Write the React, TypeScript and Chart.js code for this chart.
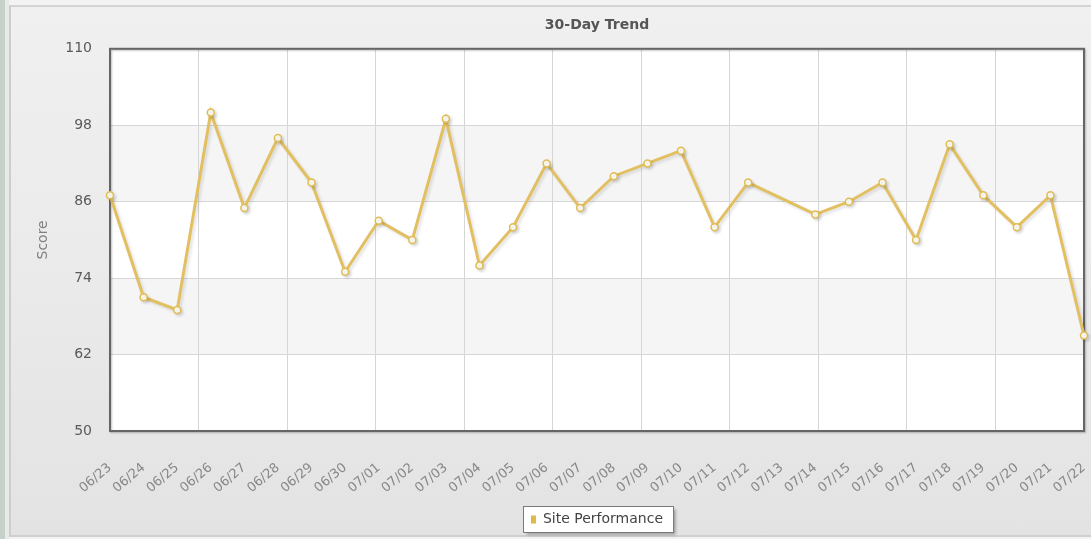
import React, { useEffect, useRef } from 'react';
import { Chart, registerables } from 'chart.js';

Chart.register(...registerables);

const dateLabels = [
  '06/23', '06/24', '06/25', '06/26', '06/27', '06/28', '06/29', '06/30',
  '07/01', '07/02', '07/03', '07/04', '07/05', '07/06', '07/07', '07/08',
  '07/09', '07/10', '07/11', '07/12', '07/13', '07/14', '07/15', '07/16',
  '07/17', '07/18', '07/19', '07/20', '07/21', '07/22',
];

const siteScores: (number | null)[] = [
  87, 71, 69, 100, 85, 96, 89, 75, 83, 80, 99, 76, 82, 92, 85, 90,
  92, 94, 82, 89, null, 84, 86, 89, 80, 95, 87, 82, 87, 65,
];

const yTickValues = [50, 62, 74, 86, 98, 110];
const verticalGridSections = 11;

const chartTitle = '30-Day Trend';
const yAxisTitle = 'Score';
const seriesName = 'Site Performance';

const FONT = '"DejaVu Sans", Verdana, sans-serif';
const LINE_COLOR = '#e2c062';
const SWATCH_COLOR = '#e0b84c';

const decorPlugin = {
  id: 'decor',
  beforeDraw(chart: any) {
    const { ctx, chartArea: a, scales } = chart;
    const y = scales.y;
    ctx.save();
    ctx.fillStyle = '#ffffff';
    ctx.fillRect(a.left, a.top, a.right - a.left, a.bottom - a.top);
    ctx.fillStyle = '#f5f5f5';
    for (let i = 0; i < yTickValues.length - 1; i++) {
      if (i % 2 === 1) {
        const top = y.getPixelForValue(yTickValues[i + 1]);
        const bot = y.getPixelForValue(yTickValues[i]);
        ctx.fillRect(a.left, top, a.right - a.left, bot - top);
      }
    }
    // legend frame
    const lg = chart.legend;
    if (lg && lg.legendHitBoxes && lg.legendHitBoxes.length) {
      const hb = lg.legendHitBoxes[0];
      const fx = Math.round(hb.left - 8) + 0.5;
      const fy = Math.round(hb.top - 7) + 0.5;
      const fw = Math.round(hb.width + 18);
      const fh = 26;
      ctx.shadowColor = 'rgba(0,0,0,0.35)';
      ctx.shadowOffsetX = 2;
      ctx.shadowOffsetY = 2;
      ctx.shadowBlur = 3;
      ctx.fillStyle = '#ffffff';
      ctx.fillRect(fx, fy, fw, fh);
      ctx.shadowColor = 'transparent';
      ctx.strokeStyle = '#7a7a7a';
      ctx.lineWidth = 1;
      ctx.strokeRect(fx, fy, fw, fh);
    }
    ctx.restore();
  },
  beforeDatasetsDraw(chart: any) {
    const { ctx, chartArea: a } = chart;
    ctx.save();
    ctx.shadowColor = 'rgba(0,0,0,0.25)';
    ctx.shadowOffsetX = 1;
    ctx.shadowOffsetY = 1;
    ctx.shadowBlur = 2;
    ctx.strokeStyle = '#666666';
    ctx.lineWidth = 2;
    ctx.strokeRect(a.left, a.top, a.right - a.left, a.bottom - a.top);
    ctx.restore();
    ctx.save();
    ctx.shadowColor = 'rgba(0,0,0,0.12)';
    ctx.shadowOffsetX = 2;
    ctx.shadowOffsetY = 2;
    ctx.shadowBlur = 3;
  },
  afterDatasetsDraw(chart: any) {
    chart.ctx.restore();
  },
};

function TrendChart() {
  const ref = useRef<HTMLCanvasElement | null>(null);

  useEffect(() => {
    if (!ref.current) return;
    const chart = new Chart(ref.current, {
      type: 'line',
      data: {
        labels: dateLabels,
        datasets: [
          {
            label: seriesName,
            data: siteScores,
            borderColor: LINE_COLOR,
            backgroundColor: SWATCH_COLOR,
            borderWidth: 3,
            pointRadius: 3.5,
            pointBackgroundColor: '#fffef6',
            pointBorderColor: '#e0bc55',
            pointBorderWidth: 1.5,
            tension: 0,
            spanGaps: true,
            clip: false as any,
          },
        ],
      },
      options: {
        responsive: false,
        animation: false,
        events: [],
        layout: { padding: { left: 0, right: 7, top: 0, bottom: 2.5 } },
        plugins: {
          tooltip: { enabled: false },
          title: {
            display: true,
            text: chartTitle,
            fullSize: false,
            color: '#555555',
            font: { family: FONT, size: 14, weight: 'bold' },
            padding: { top: 16.5, bottom: 15.5 },
          },
          legend: {
            display: true,
            position: 'bottom',
            fullSize: false,
            labels: {
              boxWidth: 5,
              boxHeight: 8,
              padding: 7,
              color: '#444444',
              font: { family: FONT, size: 14 },
              generateLabels: (c: any) =>
                c.data.datasets.map((ds: any, i: number) => ({
                  text: ds.label,
                  fillStyle: SWATCH_COLOR,
                  strokeStyle: SWATCH_COLOR,
                  lineWidth: 0,
                  hidden: false,
                  datasetIndex: i,
                  fontColor: '#444444',
                })),
            },
          },
        },
        scales: {
          x: {
            type: 'category',
            position: 'bottom',
            offset: false,
            grid: { display: false },
            border: { display: false },
            ticks: {
              autoSkip: false,
              minRotation: 40,
              maxRotation: 40,
              padding: 21,
              color: '#888888',
              font: { family: FONT, size: 13 },
            },
            afterFit(s: any) {
              s.height = 74.5;
              s.paddingLeft = 0;
              s.paddingRight = 0;
            },
          },
          xg: {
            type: 'linear',
            position: 'bottom',
            min: 0,
            max: verticalGridSections,
            ticks: { display: false, stepSize: 1 },
            grid: { color: '#d6d6d6', drawTicks: false, lineWidth: 1 },
            border: { display: false },
            afterFit(s: any) {
              s.height = 0;
              s.paddingLeft = 0;
              s.paddingRight = 0;
            },
          },
          y: {
            min: yTickValues[0],
            max: yTickValues[yTickValues.length - 1],
            grid: { color: '#d6d6d6', drawTicks: false, lineWidth: 1 },
            border: { display: false },
            ticks: {
              stepSize: 12,
              padding: 18,
              color: '#5a5a5a',
              font: { family: FONT, size: 14 },
            },
            title: {
              display: true,
              text: yAxisTitle,
              color: '#808080',
              font: { family: FONT, size: 14 },
              padding: { top: 35, bottom: 0 },
            },
            afterFit(s: any) {
              s.width = 110;
              s.paddingTop = 0;
              s.paddingBottom = 0;
            },
          },
        },
      } as any,
      plugins: [decorPlugin],
    });
    return () => chart.destroy();
  }, []);

  return (
    <canvas
      ref={ref}
      width={1091}
      height={539}
      style={{ position: 'absolute', left: 0, top: 0, width: 1091, height: 539, display: 'block' }}
    />
  );
}

export default function App() {
  return (
    <div
      style={{
        position: 'fixed',
        left: 0,
        top: 0,
        width: 1091,
        height: 539,
        background: '#f3f3f3',
        overflow: 'hidden',
        fontFamily: FONT,
      }}
    >
      <div style={{ position: 'absolute', left: 0, top: 0, width: 4.5, height: 539, background: '#c6d2c9' }} />
      <div style={{ position: 'absolute', left: 4.5, top: 0, width: 4.5, height: 539, background: '#e7ebe8' }} />
      <div
        style={{
          position: 'absolute',
          left: 9,
          top: 5,
          right: 0,
          height: 532,
          boxSizing: 'border-box',
          borderLeft: '2px solid #cdcdcd',
          borderTop: '2px solid #d4d4d4',
          borderBottom: '2px solid #cfcfcf',
          background: 'linear-gradient(#f0f0f0, #ebebeb 45%, #e3e3e3)',
        }}
      />
      <TrendChart />
    </div>
  );
}
